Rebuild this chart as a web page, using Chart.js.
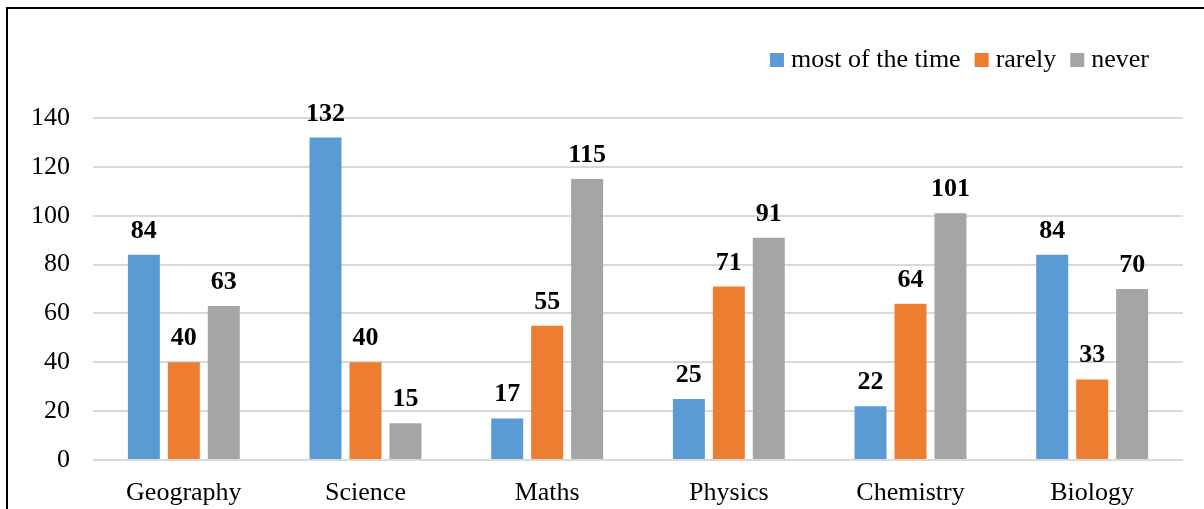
<!DOCTYPE html>
<html>
<head>
<meta charset="utf-8">
<script src="https://cdn.jsdelivr.net/npm/chart.js@4/dist/chart.umd.min.js"></script>
<style>
  html, body { margin: 0; padding: 0; background: #fff; overflow: hidden; }
  #wrap { position: relative; width: 1204px; height: 509px; }
  #frame { position: absolute; left: 6px; top: 7px; width: 3000px; height: 3000px;
           border-top: 2px solid #000; border-left: 2px solid #000; pointer-events: none; }
  canvas { position: absolute; left: 0; top: 0; }
</style>
</head>
<body>
<div id="wrap">
  <div id="frame"></div>
  <canvas id="c" width="1204" height="509"></canvas>
</div>
<script>
const categories = ['Geography', 'Science', 'Maths', 'Physics', 'Chemistry', 'Biology'];
const seriesNames = ['most of the time', 'rarely', 'never'];
const mostOfTheTime = [84, 132, 17, 25, 22, 84];
const rarely = [40, 40, 55, 71, 64, 33];
const never = [63, 15, 115, 91, 101, 70];
const seriesColors = ['#5B9BD5', '#ED7D31', '#A5A5A5'];
const yMin = 0, yMax = 140, yStep = 20;

const FONT = '"Liberation Serif", "Times New Roman", serif';

const valueLabels = {
  id: 'valueLabels',
  afterDatasetsDraw(chart) {
    const ctx = chart.ctx;
    ctx.save();
    ctx.font = 'bold 26px ' + FONT;
    ctx.fillStyle = '#000';
    ctx.textAlign = 'center';
    ctx.textBaseline = 'alphabetic';
    chart.data.datasets.forEach((ds, i) => {
      const meta = chart.getDatasetMeta(i);
      meta.data.forEach((bar, j) => {
        ctx.fillText(String(ds.data[j]), bar.x, bar.y - 17);
      });
    });
    ctx.restore();
  }
};

const customLegend = {
  id: 'customLegend',
  afterDraw(chart) {
    const ctx = chart.ctx;
    ctx.save();
    ctx.font = '26px ' + FONT;
    const box = 14, gapText = 7, gapItem = 14, rightEnd = 1149, cy = 60;
    const ds = chart.data.datasets;
    const widths = ds.map(d => ctx.measureText(d.label).width);
    let total = 0;
    widths.forEach((w, i) => { total += box + gapText + w + (i < ds.length - 1 ? gapItem : 0); });
    let x = rightEnd - total;
    ds.forEach((d, i) => {
      ctx.fillStyle = d.backgroundColor;
      ctx.fillRect(x, cy - box / 2, box, box);
      ctx.fillStyle = '#000';
      ctx.textBaseline = 'alphabetic';
      ctx.textAlign = 'left';
      ctx.fillText(d.label, x + box + gapText, cy + 7);
      x += box + gapText + widths[i] + gapItem;
    });
    ctx.restore();
  }
};

new Chart(document.getElementById('c'), {
  type: 'bar',
  data: {
    labels: categories,
    datasets: [
      { label: seriesNames[0], data: mostOfTheTime, backgroundColor: seriesColors[0] },
      { label: seriesNames[1], data: rarely, backgroundColor: seriesColors[1] },
      { label: seriesNames[2], data: never, backgroundColor: seriesColors[2] }
    ]
  },
  options: {
    responsive: false,
    animation: false,
    devicePixelRatio: 1,
    layout: { padding: { left: 31, right: 21, top: 118, bottom: 0 } },
    datasets: { bar: { categoryPercentage: 0.66, barPercentage: 0.8, borderWidth: 0 } },
    plugins: {
      legend: { display: false },
      tooltip: { enabled: false }
    },
    scales: {
      x: {
        grid: { display: false, drawTicks: false },
        border: { display: false },
        ticks: { color: '#000', font: { family: FONT, size: 26 }, padding: 18 },
        afterFit(scale) { scale.height = 49; }
      },
      y: {
        min: yMin, max: yMax,
        grid: { color: '#D9D9D9', lineWidth: 2, drawTicks: false },
        border: { display: false },
        ticks: { stepSize: yStep, color: '#000', font: { family: FONT, size: 26 }, padding: 23 },
        afterFit(scale) { scale.width = 62; }
      }
    }
  },
  plugins: [valueLabels, customLegend]
});
</script>
</body>
</html>
